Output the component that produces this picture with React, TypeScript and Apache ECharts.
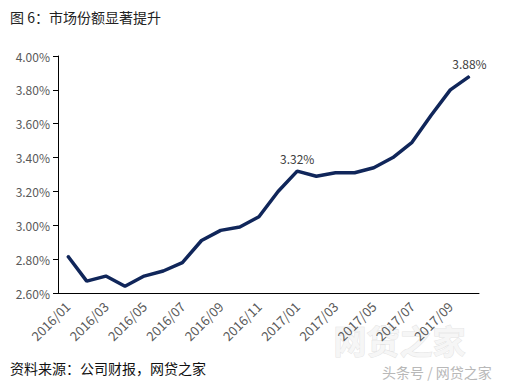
import React, { useEffect, useRef } from "react";
import * as echarts from "echarts";

const months = [
  "2016/01", "2016/02", "2016/03", "2016/04", "2016/05", "2016/06",
  "2016/07", "2016/08", "2016/09", "2016/10", "2016/11", "2016/12",
  "2017/01", "2017/02", "2017/03", "2017/04", "2017/05", "2017/06",
  "2017/07", "2017/08", "2017/09", "2017/10",
];
const share = [
  2.82, 2.67, 2.70, 2.64, 2.70, 2.73, 2.78, 2.91, 2.97, 2.99, 3.05, 3.20,
  3.32, 3.29, 3.31, 3.31, 3.34, 3.40, 3.49, 3.65, 3.80, 3.88,
];
const labelledIdx = [12, 21];
const title = "图 6：市场份额显著提升";
const source = "资料来源：公司财报，网贷之家";

export default function App() {
  const ref = useRef<HTMLDivElement>(null);
  useEffect(() => {
    const el = ref.current;
    if (!el) return;
    const chart = echarts.init(el, null, { renderer: "svg" });
    const font = "'Noto Sans CJK SC', 'Noto Sans', sans-serif";
    chart.setOption({
      animation: false,
      backgroundColor: "#ffffff",
      grid: { left: 58, right: 27, top: 56, bottom: 92 },
      xAxis: {
        type: "category",
        data: months,
        boundaryGap: true,
        axisLine: { lineStyle: { color: "#000000", width: 1 } },
        axisTick: { interval: 1, length: 5, lineStyle: { color: "#000000" } },
        axisLabel: {
          interval: 1,
          rotate: 45,
          color: "#595959",
          fontSize: 13,
          fontFamily: font,
          margin: 11,
        },
      },
      yAxis: {
        type: "value",
        min: 2.6,
        max: 4.0,
        interval: 0.2,
        splitLine: { show: false },
        axisLine: { show: true, lineStyle: { color: "#000000", width: 1 } },
        axisTick: { show: true, length: 5, lineStyle: { color: "#000000" } },
        axisLabel: {
          color: "#595959",
          fontSize: 12,
          fontFamily: font,
          margin: 8,
          formatter: (v: number) => v.toFixed(2) + "%",
        },
      },
      series: [
        {
          type: "line",
          data: share.map((v, i) => ({
            value: v,
            label: {
              show: labelledIdx.includes(i),
              position: "top",
              distance: 6,
              color: "#404040",
              fontSize: 12,
              fontFamily: font,
              formatter: (p: any) => Number(p.value).toFixed(2) + "%",
            },
          })),
          symbol: "circle",
          symbolSize: 1,
          showSymbol: true,
          lineStyle: { color: "#10265a", width: 3.5 },
          itemStyle: { color: "#10265a" },
        },
      ],
      graphic: [
        {
          type: "text",
          left: 10,
          top: 10,
          style: { text: title, fill: "#222222", fontSize: 14, fontFamily: font },
        },
        {
          type: "text",
          left: 333,
          top: 323,
          z: -1,
          style: {
            text: "网贷之家",
            fill: "#f6f6f6",
            stroke: "#e4e4e4",
            lineWidth: 1,
            fontSize: 33,
            lineHeight: 33,
            fontWeight: "bold",
            fontFamily: font,
          },
        },
        {
          type: "text",
          left: 10,
          top: 361,
          style: { text: source, fill: "#111111", fontSize: 14, fontFamily: font },
        },
        {
          type: "text",
          left: 382,
          top: 365,
          style: {
            text: "头条号 / 网贷之家",
            fill: "#b8b8b8",
            fontSize: 14,
            lineHeight: 14,
            fontFamily: font,
          },
        },
      ],
    });
    return () => chart.dispose();
  }, []);
  return (
    <div
      ref={ref}
      style={{ position: "absolute", left: 0, top: 0, width: 506, height: 385 }}
    />
  );
}
